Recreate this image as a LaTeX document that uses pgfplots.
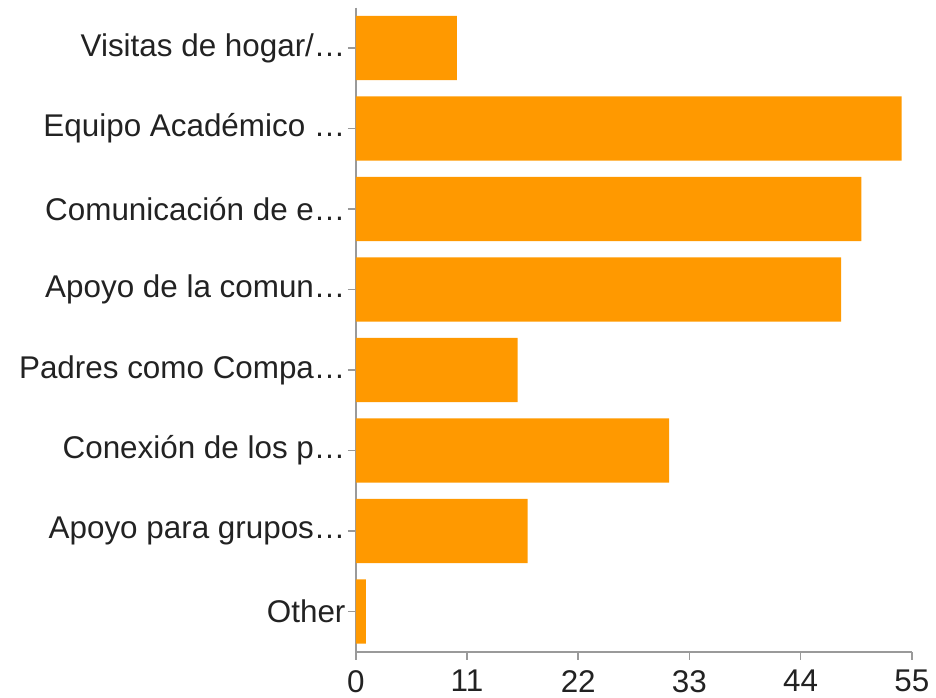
\documentclass[border=0pt]{standalone}
\usepackage{pgfplots}
\pgfplotsset{compat=1.18}
\usepackage{fontspec}
\setmainfont{Liberation Sans}
\definecolor{barorange}{HTML}{FF9900}
\definecolor{axisgray}{HTML}{9A9A9A}
\definecolor{labelgray}{HTML}{222222}
\begin{document}
\begin{tikzpicture}
\begin{axis}[
  xbar,
  scale only axis,
  width=278pt, height=322pt,
  xmin=0, xmax=55,
  ymin=-0.5, ymax=7.5,
  y dir=reverse,
  bar width=0.8,
  xtick={0,11,22,33,44,55},
  ytick={0,1,2,3,4,5,6,7},
  yticklabels={Visitas de hogar/…, Equipo Académico …, Comunicación de e…, Apoyo de la comun…, Padres como Compa…, Conexión de los p…, Apoyo para grupos…, Other},
  axis x line*=bottom, axis y line*=left,
  xtick pos=bottom, ytick pos=left,
  tick align=outside,
  major tick length=4pt,
  axis line style={axisgray, line width=0.8pt},
  tick style={axisgray, line width=0.8pt},
  /pgf/number format/assume math mode=true,
  ticklabel style={font=\fontsize{15.7}{18}\selectfont, text=labelgray},
  yticklabel style={inner sep=1pt},
  xticklabel style={inner sep=1pt, yshift=-4pt},
  clip=false,
]
\addplot[draw=none, fill=barorange] coordinates {
  (10,0) (54,1) (50,2) (48,3) (16,4) (31,5) (17,6) (1,7)
};
\path[use as bounding box] (rel axis cs:-0.640,-0.0717) rectangle (rel axis cs:1.0435,1.012);
\end{axis}
\end{tikzpicture}
\end{document}
